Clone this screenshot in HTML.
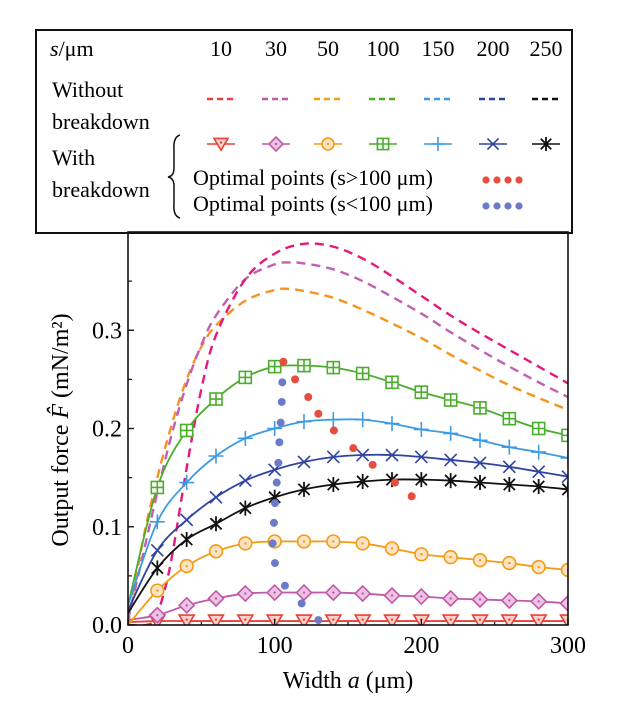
<!DOCTYPE html>
<html><head><meta charset="utf-8"><style>
html,body{margin:0;padding:0;background:#fff;}
svg, svg text{font-family:"Liberation Serif","DejaVu Serif",serif;}
</style></head><body>
<svg id="chart" width="621" height="710" viewBox="0 0 621 710" xmlns="http://www.w3.org/2000/svg" font-family="Liberation Serif, DejaVu Serif, serif">
<g id="legend">
<rect x="36" y="30" width="536" height="203" fill="#fff" stroke="#111" stroke-width="2"/>
<text x="50" y="56" font-size="22"><tspan font-style="italic">s</tspan>/μm</text>
<text x="52" y="97" font-size="22">Without</text>
<text x="52" y="129" font-size="22">breakdown</text>
<text x="52" y="165" font-size="22">With</text>
<text x="52" y="197" font-size="22">breakdown</text>
<path d="M180 135 Q173 137 174 150 L174 168 Q174 176 168 177 Q174 178 174 186 L174 204 Q173 216 180 218" fill="none" stroke="#111" stroke-width="1.5"/>
<text x="193" y="185" font-size="22">Optimal points (s&gt;100 μm)</text>
<text x="193" y="211" font-size="22">Optimal points (s&lt;100 μm)</text>
</g>
<g id="plot"></g>
<text x="348" y="688" font-size="24" text-anchor="middle">Width <tspan font-style="italic">a</tspan> (μm)</text>
<text transform="translate(68,430) rotate(-90)" font-size="24" text-anchor="middle">Output force <tspan font-style="italic">F̂</tspan> (mN/m²)</text>
</svg>
<script>
const sValues = ["10","30","50","100","150","200","250"];
const colors = ["#e8403a","#c158a8","#f39c12","#4aad2c","#3d9be3","#2f43a0","#111111"];
const dashColors = ["#e6197a","#c060b0","#f7931e"];
const markerTypes = ["tri","diamond","circle","square","plus","cross","star"];
const markerX = [0,20,40,60,80,100,120,140,160,180,200,220,240,260,280,300];
const s10 = [0.003,0.004,0.004,0.004,0.004,0.004,0.004,0.004,0.004,0.004,0.004,0.004,0.004,0.004,0.004,0.004];
const s30 = [0.005,0.010,0.020,0.027,0.032,0.033,0.033,0.033,0.032,0.030,0.029,0.027,0.026,0.025,0.024,0.022];
const s50 = [0.000,0.035,0.060,0.075,0.083,0.085,0.085,0.085,0.083,0.078,0.072,0.069,0.066,0.063,0.059,0.056];
const s100 = [0.020,0.140,0.198,0.230,0.252,0.263,0.264,0.262,0.256,0.247,0.237,0.229,0.221,0.210,0.200,0.193];
const s150 = [0.020,0.105,0.145,0.172,0.190,0.200,0.207,0.209,0.209,0.205,0.199,0.195,0.188,0.181,0.176,0.170];
const s200 = [0.015,0.076,0.107,0.130,0.147,0.158,0.166,0.171,0.173,0.173,0.171,0.168,0.165,0.161,0.156,0.151];
const s250 = [0.012,0.058,0.087,0.103,0.119,0.130,0.138,0.143,0.146,0.148,0.148,0.147,0.145,0.143,0.141,0.138];
const dashX10 = [0,12,18,24,30,40,50,60,80,100,120,140,160,180,200,220,240,260,280,300];
const dash10 = [0.0,0.0,0.005,0.03,0.07,0.16,0.24,0.295,0.352,0.378,0.388,0.385,0.373,0.355,0.335,0.315,0.297,0.280,0.263,0.246];
const dashX30 = [0,10,20,30,40,50,60,80,100,110,120,140,160,180,200,220,240,260,280,300];
const dash30 = [0.005,0.07,0.135,0.195,0.245,0.285,0.315,0.352,0.367,0.369,0.368,0.362,0.350,0.334,0.317,0.298,0.280,0.263,0.247,0.232];
const dashX50 = [0,10,20,30,40,50,60,80,100,110,120,140,160,180,200,220,240,260,280,300];
const dash50 = [0.0,0.085,0.15,0.205,0.25,0.283,0.305,0.330,0.341,0.342,0.340,0.333,0.321,0.307,0.292,0.275,0.259,0.244,0.231,0.219];
const optHighX = [105.9,113.9,122.9,129.8,140.4,153.6,166.8,182.0,193.4];
const optHighY = [0.268,0.250,0.232,0.215,0.198,0.180,0.163,0.145,0.131];
const optLowX = [105.2,104.8,104.1,103.2,102.5,101.4,100.2,99.5,98.6,100.2,107.0,118.4,129.8];
const optLowY = [0.247,0.227,0.206,0.186,0.165,0.145,0.124,0.104,0.083,0.063,0.040,0.022,0.005];
const xTicks = [0,100,200,300];
const xMinor = [50,150,250];
const yTicks = [0.0,0.1,0.2,0.3];
const yTickLabels = ["0.0","0.1","0.2","0.3"];
const yMinor = [0.05,0.15,0.25,0.35];

const NS="http://www.w3.org/2000/svg";
const X0=128,X1=568,Y0=625,Y1=232;
const xs=v=>X0+(v/300)*(X1-X0);
const ys=v=>Y0-(v/0.4)*(Y0-Y1);
const svg=document.getElementById('chart');
const plot=document.getElementById('plot');
const legend=document.getElementById('legend');
function mk(tag,attrs,parent){const e=document.createElementNS(NS,tag);for(const k in attrs)e.setAttribute(k,attrs[k]);(parent||plot).appendChild(e);return e;}
function smooth(pts){let d=`M${pts[0][0]},${pts[0][1]}`;for(let i=0;i<pts.length-1;i++){const p0=pts[Math.max(0,i-1)],p1=pts[i],p2=pts[i+1],p3=pts[Math.min(pts.length-1,i+2)];const c1=[p1[0]+(p2[0]-p0[0])/6,p1[1]+(p2[1]-p0[1])/6];const c2=[p2[0]-(p3[0]-p1[0])/6,p2[1]-(p3[1]-p1[1])/6];d+=` C${c1[0]},${c1[1]} ${c2[0]},${c2[1]} ${p2[0]},${p2[1]}`;}return d;}
const clip=mk('clipPath',{id:'pc'},svg);mk('rect',{x:X0,y:Y1,width:X1-X0,height:Y0-Y1},clip);

function marker(type,cx,cy,col,r,parent){
  const g=mk('g',{},parent);
  const sw=1.6;
  if(type==='tri'){mk('polygon',{points:`${cx-r},${cy-r*0.8} ${cx+r},${cy-r*0.8} ${cx},${cy+r*0.9}`,fill:'#fbd0c8',stroke:col,'stroke-width':sw},g);mk('circle',{cx:cx,cy:cy-r*0.2,r:1.2,fill:col},g);}
  else if(type==='diamond'){mk('polygon',{points:`${cx},${cy-r} ${cx+r},${cy} ${cx},${cy+r} ${cx-r},${cy}`,fill:'#ecc3e2',stroke:col,'stroke-width':sw},g);mk('circle',{cx:cx,cy:cy,r:1.2,fill:col},g);}
  else if(type==='circle'){mk('circle',{cx:cx,cy:cy,r:r*0.85,fill:'#fde3c4',stroke:col,'stroke-width':sw},g);mk('circle',{cx:cx,cy:cy,r:1.2,fill:col},g);}
  else if(type==='square'){const h=r*0.8;mk('rect',{x:cx-h,y:cy-h,width:2*h,height:2*h,fill:'#fff',stroke:col,'stroke-width':sw},g);mk('path',{d:`M${cx-h},${cy}H${cx+h}M${cx},${cy-h}V${cy+h}`,stroke:col,'stroke-width':sw},g);}
  else if(type==='plus'){mk('path',{d:`M${cx-r},${cy}H${cx+r}M${cx},${cy-r}V${cy+r}`,stroke:col,'stroke-width':sw},g);}
  else if(type==='cross'){const a=r*0.8;mk('path',{d:`M${cx-a},${cy-a}L${cx+a},${cy+a}M${cx-a},${cy+a}L${cx+a},${cy-a}`,stroke:col,'stroke-width':sw},g);}
  else if(type==='star'){const a=r*0.75;mk('path',{d:`M${cx-a},${cy-a}L${cx+a},${cy+a}M${cx-a},${cy+a}L${cx+a},${cy-a}M${cx},${cy-r}V${cy+r}`,stroke:col,'stroke-width':1.8},g);}
  return g;
}

const legX=[221,276,328,383,438,493,546];
sValues.forEach((s,i)=>{
  const t=mk('text',{x:legX[i],y:56,'font-size':22,'text-anchor':'middle'},legend);t.textContent=s;
  
  
  const d=mk('line',{x1:legX[i]-14,y1:99,x2:legX[i]+14,y2:99,stroke:colors[i],'stroke-width':2.5,'stroke-dasharray':'6 4'},legend);
  
  
  const l=mk('line',{x1:legX[i]-14,y1:144,x2:legX[i]+14,y2:144,stroke:colors[i],'stroke-width':1.6},legend);
  
  
  const m=marker(markerTypes[i],legX[i],144,colors[i],7,legend);
  
  
});
[0,1,2,3].forEach(k=>{
  const a=mk('circle',{cx:486+k*11,cy:180,r:3.6,fill:'#e84c3d'},legend);
  
  
  const b=mk('circle',{cx:486+k*11,cy:206,r:3.6,fill:'#6b7bc8'},legend);
  
  
});

const pg=mk('g',{'clip-path':'url(#pc)'});
[[dashX50,dash50,2],[dashX30,dash30,1],[dashX10,dash10,0]].forEach(([xa,ya,i])=>{
  const p=mk('path',{d:smooth(xa.map((x,k)=>[xs(x),ys(ya[k])])),fill:'none',stroke:dashColors[i],'stroke-width':2.4,'stroke-dasharray':'9 6'},pg);
  
  
});
const series=[s10,s30,s50,s100,s150,s200,s250];
series.forEach((arr,i)=>{
  const p=mk('path',{d:smooth(markerX.map((x,k)=>[xs(x),ys(arr[k])])),fill:'none',stroke:colors[i],'stroke-width':1.8},pg);
  
  
  markerX.forEach((x,k)=>{if(x===0)return;
    const m=marker(markerTypes[i],xs(x),ys(arr[k]),colors[i],7.5,pg);
    
    
  });
});
optHighX.forEach((x,k)=>{
  const c=mk('circle',{cx:xs(x),cy:ys(optHighY[k]),r:4,fill:'#e84c3d'},pg);
  
  
});
optLowX.forEach((x,k)=>{
  const c=mk('circle',{cx:xs(x),cy:ys(optLowY[k]),r:4,fill:'#6b7bc8'},pg);
  
  
});
const fr=mk('rect',{x:X0,y:Y1,width:X1-X0,height:Y0-Y1,fill:'none',stroke:'#111','stroke-width':1.6});


xTicks.forEach(v=>{
  mk('line',{x1:xs(v),y1:Y0,x2:xs(v),y2:Y0-6,stroke:'#111','stroke-width':1.4});
  const t=mk('text',{x:xs(v),y:Y0+28,'font-size':24,'text-anchor':'middle'});t.textContent=String(v);
  
  
});
xMinor.forEach(v=>mk('line',{x1:xs(v),y1:Y0,x2:xs(v),y2:Y0-3,stroke:'#111','stroke-width':1.2}));
yTicks.forEach((v,k)=>{
  mk('line',{x1:X0,y1:ys(v),x2:X0+6,y2:ys(v),stroke:'#111','stroke-width':1.4});
  const t=mk('text',{x:X0-6,y:ys(v)+8,'font-size':24,'text-anchor':'end'});t.textContent=yTickLabels[k];
  
  
});
yMinor.forEach(v=>mk('line',{x1:X0,y1:ys(v),x2:X0+4,y2:ys(v),stroke:'#111','stroke-width':1.2}));
</script>
</body></html>
